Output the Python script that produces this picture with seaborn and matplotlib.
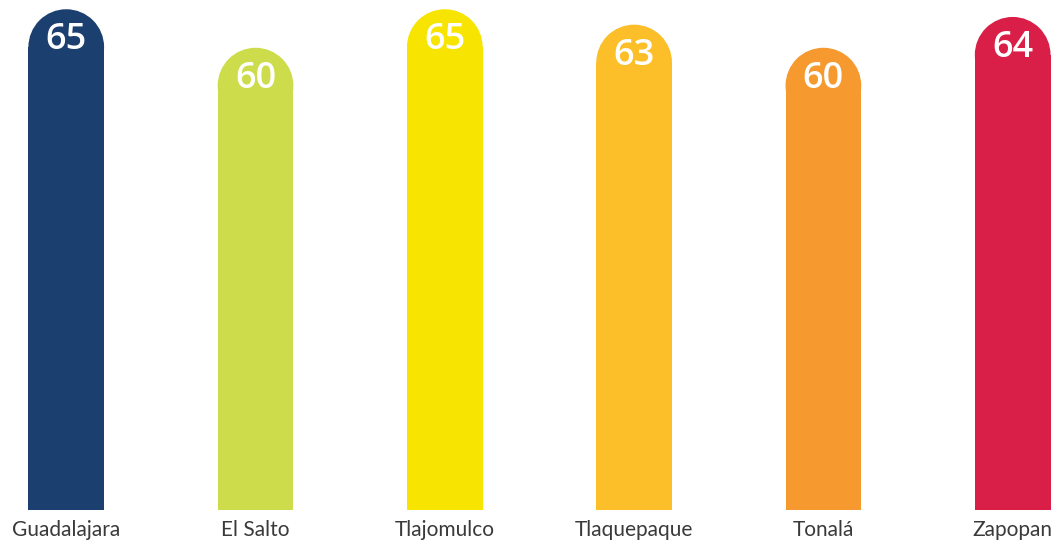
import pandas as pd
import seaborn as sns
import matplotlib.pyplot as plt
from matplotlib.patches import Ellipse

municipios = ["Guadalajara", "El Salto", "Tlajomulco", "Tlaquepaque", "Tonalá", "Zapopan"]
valores = [65, 60, 65, 63, 60, 64]
colores = ["#1b3f6e", "#cddc4a", "#f7e400", "#fcbf2a", "#f6992e", "#d91f48"]

df = pd.DataFrame({"municipio": municipios, "valor": valores})

sns.set_theme(style="white")
plt.rcParams["font.family"] = ["Lato", "DejaVu Sans"]

W, H = 1060, 544
fig = plt.figure(figsize=(W / 100, H / 100), dpi=100)
ax = fig.add_axes([0, 34 / H, 1, 510 / H])

sns.barplot(data=df, x="municipio", y="valor", hue="municipio",
            palette=colores, width=0.4, legend=False, saturation=1,
            linewidth=0, edgecolor="none", ax=ax)

xlim = (-0.35, 5.25)
ylim = (0, 66.2)
ax.set_xlim(*xlim)
ax.set_ylim(*ylim)
ax_h_px = 510
px_per_y = ax_h_px / (ylim[1] - ylim[0])

# rounded tops: shorten each bar by its radius and add a half-ellipse cap
for bar, v in zip(ax.patches, valores):
    x0, w = bar.get_x(), bar.get_width()
    w_px = w * W / (xlim[1] - xlim[0])
    r = (w_px / 2) / px_per_y
    h = bar.get_height()
    bar.set_height(h - r)
    ax.add_patch(Ellipse((x0 + w / 2, h - r), w, 2 * r,
                         facecolor=bar.get_facecolor(), edgecolor="none",
                         linewidth=0))
    ax.text(x0 + w / 2, h - 31 / px_per_y, str(v), ha="center", va="center",
            color="white", fontsize=26, fontweight="semibold",
            family=["Open Sans", "DejaVu Sans"])

ax.set_xlabel("")
ax.set_ylabel("")
ax.set_yticks([])
ax.tick_params(axis="x", length=0, pad=7, labelsize=15, labelcolor="#3a3a3a")
sns.despine(ax=ax, left=True, bottom=True)

fig.savefig("out.png", dpi=100)
